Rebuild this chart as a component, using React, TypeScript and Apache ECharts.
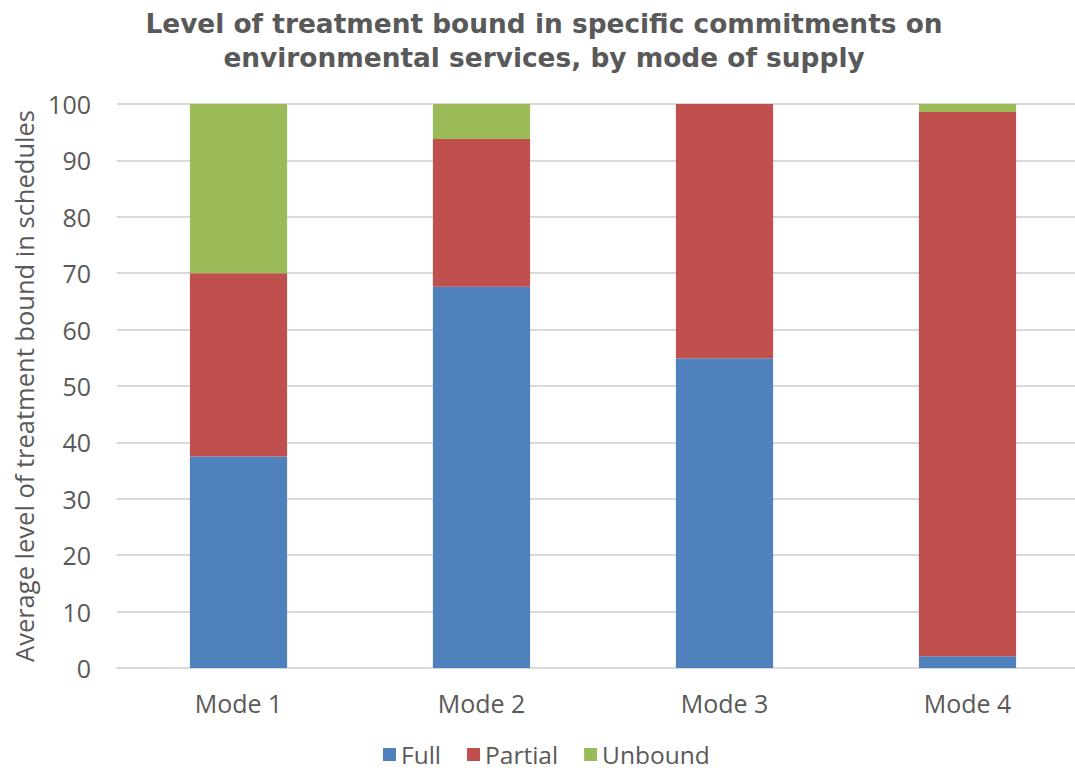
import React, { useEffect, useRef } from "react";
import * as echarts from "echarts";

const categories = ["Mode 1", "Mode 2", "Mode 3", "Mode 4"];
const fullValues = [37.5, 67.6, 54.9, 2.1];
const partialValues = [32.5, 26.2, 45.1, 96.5];
const unboundValues = [30.0, 6.2, 0, 1.4];
const yTicks = { min: 0, max: 100, interval: 10 };

const TEXT = "#595959";
const FONT = "'Open Sans', sans-serif";

export default function App() {
  const ref = useRef<HTMLDivElement>(null);
  useEffect(() => {
    if (!ref.current) return;
    const chart = echarts.init(ref.current, undefined, { renderer: "svg" });
    const bar = (name: string, data: number[], color: string) => ({
      name,
      type: "bar",
      stack: "total",
      data,
      barCategoryGap: "60%",
      itemStyle: { color },
    });
    chart.setOption({
      animation: false,
      backgroundColor: "#ffffff",
      title: {
        text: "Level of treatment bound in specific commitments on\nenvironmental services, by mode of supply",
        left: 539,
        textAlign: "center",
        top: 1,
        textStyle: {
          fontFamily: "'DejaVu Sans', sans-serif",
          fontWeight: "bold",
          fontSize: 26.4,
          color: TEXT,
          lineHeight: 34,
        },
      },
      legend: {
        top: 737,
        left: 378,
        padding: 5,
        itemWidth: 13,
        itemHeight: 13,
        itemGap: 26,
        icon: "rect",
        textStyle: { fontFamily: FONT, fontSize: 24.5, color: TEXT },
        data: ["Full", "Partial", "Unbound"],
      },
      grid: {
        left: 117,
        width: 972,
        top: 104,
        bottom: 103,
        containLabel: false,
        outerBoundsMode: "none",
      },
      xAxis: {
        type: "category",
        data: categories,
        axisLine: { lineStyle: { color: "#d9d9d9", width: 2 } },
        axisTick: { show: false },
        axisLabel: { fontFamily: FONT, fontSize: 25, color: TEXT, margin: 22 },
      },
      yAxis: {
        type: "value",
        min: yTicks.min,
        max: yTicks.max,
        interval: yTicks.interval,
        name: "Average level of treatment bound in schedules",
        nameLocation: "middle",
        nameGap: 74,
        nameTextStyle: { fontFamily: FONT, fontSize: 25.5, color: TEXT },
        axisLine: { show: false },
        axisTick: { show: false },
        splitLine: { lineStyle: { color: "#d9d9d9", width: 2 } },
        axisLabel: { fontFamily: FONT, fontSize: 25, color: TEXT, margin: 26 },
      },
      series: [
        bar("Full", fullValues, "#4f81bd"),
        bar("Partial", partialValues, "#c0504d"),
        bar("Unbound", unboundValues, "#9bbb59"),
      ],
    });
    return () => chart.dispose();
  }, []);
  return (
    <div
      ref={ref}
      style={{ position: "fixed", left: 0, top: 0, width: 1075, height: 771 }}
    />
  );
}
